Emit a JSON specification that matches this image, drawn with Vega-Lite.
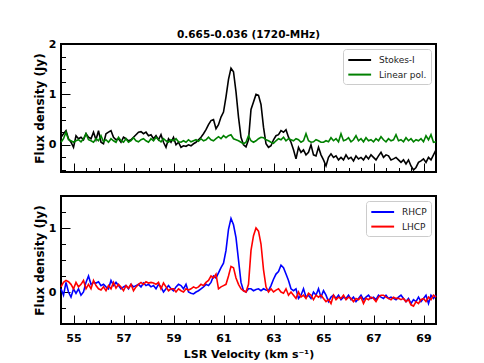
{
 "$schema": "https://vega.github.io/schema/vega-lite/v6.json",
 "padding": {"left": 32, "top": 28, "right": 0, "bottom": 0},
 "background": "white",
 "config": {
  "font": "DejaVu Sans",
  "view": {"stroke": "black", "strokeWidth": 2},
  "axis": {"domain": false, "grid": false, "tickColor": "black", "tickWidth": 1, "labelColor": "black", "titleColor": "black", "labelFont": "DejaVu Sans", "labelFontWeight": "bold", "labelFontSize": 11, "titleFontWeight": "bold", "titleFont": "DejaVu Sans"},
  "legend": {"orient": "top-right", "offset": 5, "padding": 4, "strokeColor": "#cccccc", "fillColor": "white", "cornerRadius": 3, "symbolType": "M-1,0L3,0", "symbolSize": 130, "symbolStrokeWidth": 2, "labelFontSize": 9, "labelFont": "DejaVu Sans", "labelColor": "#222222", "rowPadding": 2.6, "labelOffset": 18}
 },
 "datasets": {"d": [
  {"v":54.5,"s1":0.15,"s2":0.05,"c1":0.05,"c2":0.08},
  {"v":54.6,"s1":0.22,"s2":0.12,"c1":-0.05,"c2":0.15},
  {"v":54.7,"s1":0.28,"s2":0.25,"c1":0.15,"c2":0.18},
  {"v":54.8,"s1":0.12,"s2":0.10,"c1":0.0,"c2":0.16},
  {"v":54.9,"s1":0.05,"s2":0.08,"c1":-0.08,"c2":0.12},
  {"v":55.0,"s1":-0.05,"s2":0.05,"c1":0.05,"c2":0.05},
  {"v":55.1,"s1":0.18,"s2":0.08,"c1":-0.02,"c2":0.15},
  {"v":55.2,"s1":0.12,"s2":0.10,"c1":0.05,"c2":0.08},
  {"v":55.3,"s1":0.15,"s2":0.06,"c1":-0.05,"c2":0.12},
  {"v":55.4,"s1":0.10,"s2":0.12,"c1":0.0,"c2":0.18},
  {"v":55.5,"s1":0.22,"s2":0.22,"c1":0.15,"c2":0.05},
  {"v":55.6,"s1":0.15,"s2":0.10,"c1":0.25,"c2":0.12},
  {"v":55.7,"s1":0.12,"s2":0.08,"c1":0.12,"c2":0.05},
  {"v":55.8,"s1":0.25,"s2":0.05,"c1":0.15,"c2":0.18},
  {"v":55.9,"s1":0.10,"s2":0.12,"c1":0.14,"c2":0.10},
  {"v":56.0,"s1":0.28,"s2":0.08,"c1":0.16,"c2":0.05},
  {"v":56.1,"s1":0.05,"s2":0.18,"c1":0.10,"c2":0.03},
  {"v":56.2,"s1":0.02,"s2":0.06,"c1":0.12,"c2":0.08},
  {"v":56.3,"s1":0.22,"s2":0.10,"c1":0.08,"c2":0.02},
  {"v":56.4,"s1":0.25,"s2":0.05,"c1":0.05,"c2":0.10},
  {"v":56.5,"s1":0.28,"s2":0.12,"c1":0.18,"c2":0.05},
  {"v":56.6,"s1":0.15,"s2":0.08,"c1":0.10,"c2":0.15},
  {"v":56.7,"s1":0.10,"s2":0.05,"c1":0.15,"c2":0.06},
  {"v":56.8,"s1":0.12,"s2":0.15,"c1":0.10,"c2":0.12},
  {"v":56.9,"s1":0.05,"s2":0.08,"c1":0.05,"c2":0.08},
  {"v":57.0,"s1":0.15,"s2":0.05,"c1":0.08,"c2":0.02},
  {"v":57.1,"s1":0.12,"s2":0.12,"c1":0.10,"c2":0.10},
  {"v":57.2,"s1":0.08,"s2":0.05,"c1":0.05,"c2":0.06},
  {"v":57.3,"s1":0.10,"s2":0.08,"c1":0.12,"c2":0.12},
  {"v":57.4,"s1":0.15,"s2":0.14,"c1":0.08,"c2":0.02},
  {"v":57.5,"s1":0.20,"s2":0.08,"c1":0.10,"c2":0.08},
  {"v":57.6,"s1":0.25,"s2":0.06,"c1":0.12,"c2":0.12},
  {"v":57.7,"s1":0.26,"s2":0.10,"c1":0.08,"c2":0.15},
  {"v":57.8,"s1":0.22,"s2":0.12,"c1":0.14,"c2":0.12},
  {"v":57.9,"s1":0.25,"s2":0.08,"c1":0.10,"c2":0.16},
  {"v":58.0,"s1":0.18,"s2":0.05,"c1":0.12,"c2":0.14},
  {"v":58.1,"s1":0.20,"s2":0.12,"c1":0.08,"c2":0.15},
  {"v":58.2,"s1":0.12,"s2":0.08,"c1":0.10,"c2":0.14},
  {"v":58.3,"s1":0.18,"s2":0.15,"c1":0.05,"c2":0.12},
  {"v":58.4,"s1":0.10,"s2":0.10,"c1":0.12,"c2":0.15},
  {"v":58.5,"s1":0.20,"s2":0.06,"c1":0.08,"c2":0.05},
  {"v":58.6,"s1":0.05,"s2":0.12,"c1":0.0,"c2":0.14},
  {"v":58.7,"s1":-0.05,"s2":0.08,"c1":0.05,"c2":0.08},
  {"v":58.8,"s1":0.12,"s2":0.05,"c1":0.10,"c2":0.02},
  {"v":58.9,"s1":0.05,"s2":0.10,"c1":0.05,"c2":0.05},
  {"v":59.0,"s1":0.15,"s2":0.08,"c1":0.02,"c2":0.05},
  {"v":59.1,"s1":0.0,"s2":0.12,"c1":0.08,"c2":0.0},
  {"v":59.2,"s1":0.05,"s2":0.06,"c1":0.12,"c2":0.05},
  {"v":59.3,"s1":-0.05,"s2":0.05,"c1":0.10,"c2":0.02},
  {"v":59.4,"s1":-0.02,"s2":0.08,"c1":0.05,"c2":0.0},
  {"v":59.5,"s1":-0.03,"s2":0.05,"c1":0.12,"c2":0.05},
  {"v":59.6,"s1":0.0,"s2":0.10,"c1":0.0,"c2":0.03},
  {"v":59.7,"s1":-0.02,"s2":0.06,"c1":-0.02,"c2":0.05},
  {"v":59.8,"s1":0.02,"s2":0.08,"c1":-0.03,"c2":0.08},
  {"v":59.9,"s1":0.05,"s2":0.10,"c1":0.0,"c2":0.06},
  {"v":60.0,"s1":0.10,"s2":0.07,"c1":0.02,"c2":0.08},
  {"v":60.1,"s1":0.15,"s2":0.12,"c1":0.05,"c2":0.12},
  {"v":60.2,"s1":0.22,"s2":0.08,"c1":0.08,"c2":0.10},
  {"v":60.3,"s1":0.30,"s2":0.10,"c1":0.12,"c2":0.15},
  {"v":60.4,"s1":0.40,"s2":0.15,"c1":0.10,"c2":0.18},
  {"v":60.5,"s1":0.48,"s2":0.10,"c1":0.15,"c2":0.25},
  {"v":60.6,"s1":0.50,"s2":0.08,"c1":0.25,"c2":0.22},
  {"v":60.7,"s1":0.32,"s2":0.12,"c1":0.22,"c2":0.28},
  {"v":60.8,"s1":0.40,"s2":0.16,"c1":0.30,"c2":0.05},
  {"v":60.9,"s1":0.55,"s2":0.12,"c1":0.38,"c2":0.08},
  {"v":61.0,"s1":0.65,"s2":0.18,"c1":0.45,"c2":0.10},
  {"v":61.1,"s1":0.95,"s2":0.14,"c1":0.65,"c2":0.12},
  {"v":61.2,"s1":1.30,"s2":0.18,"c1":0.98,"c2":0.25},
  {"v":61.3,"s1":1.52,"s2":0.20,"c1":1.15,"c2":0.40},
  {"v":61.4,"s1":1.45,"s2":0.12,"c1":1.05,"c2":0.38},
  {"v":61.5,"s1":1.05,"s2":0.10,"c1":0.85,"c2":0.22},
  {"v":61.6,"s1":0.55,"s2":0.08,"c1":0.50,"c2":0.12},
  {"v":61.7,"s1":0.15,"s2":0.05,"c1":0.15,"c2":0.05},
  {"v":61.8,"s1":0.0,"s2":0.02,"c1":0.02,"c2":0.02},
  {"v":61.9,"s1":-0.04,"s2":0.05,"c1":0.0,"c2":0.0},
  {"v":62.0,"s1":0.10,"s2":0.18,"c1":0.05,"c2":0.12},
  {"v":62.1,"s1":0.70,"s2":0.08,"c1":0.05,"c2":0.65},
  {"v":62.2,"s1":0.85,"s2":0.05,"c1":0.02,"c2":0.88},
  {"v":62.3,"s1":1.00,"s2":0.08,"c1":0.04,"c2":1.0},
  {"v":62.4,"s1":0.98,"s2":0.12,"c1":0.05,"c2":0.95},
  {"v":62.5,"s1":0.80,"s2":0.15,"c1":0.02,"c2":0.75},
  {"v":62.6,"s1":0.35,"s2":0.14,"c1":0.05,"c2":0.35},
  {"v":62.7,"s1":0.02,"s2":0.10,"c1":0.03,"c2":0.08},
  {"v":62.8,"s1":-0.05,"s2":0.08,"c1":0.02,"c2":0.0},
  {"v":62.9,"s1":-0.02,"s2":0.05,"c1":0.10,"c2":0.05},
  {"v":63.0,"s1":0.10,"s2":0.03,"c1":0.20,"c2":0.0},
  {"v":63.1,"s1":0.18,"s2":0.08,"c1":0.28,"c2":0.03},
  {"v":63.2,"s1":0.20,"s2":0.12,"c1":0.32,"c2":0.05},
  {"v":63.3,"s1":0.28,"s2":0.10,"c1":0.42,"c2":0.0},
  {"v":63.4,"s1":0.25,"s2":0.15,"c1":0.38,"c2":-0.02},
  {"v":63.5,"s1":0.30,"s2":0.08,"c1":0.28,"c2":0.05},
  {"v":63.6,"s1":0.15,"s2":0.12,"c1":0.18,"c2":-0.05},
  {"v":63.7,"s1":0.05,"s2":0.10,"c1":0.05,"c2":0.0},
  {"v":63.8,"s1":-0.10,"s2":0.08,"c1":0.02,"c2":-0.05},
  {"v":63.9,"s1":-0.28,"s2":0.12,"c1":0.05,"c2":-0.10},
  {"v":64.0,"s1":-0.05,"s2":0.10,"c1":-0.10,"c2":0.0},
  {"v":64.1,"s1":-0.15,"s2":0.05,"c1":-0.05,"c2":-0.08},
  {"v":64.2,"s1":-0.10,"s2":0.08,"c1":0.05,"c2":-0.05},
  {"v":64.3,"s1":-0.20,"s2":0.22,"c1":-0.08,"c2":-0.10},
  {"v":64.4,"s1":-0.15,"s2":0.08,"c1":-0.05,"c2":-0.02},
  {"v":64.5,"s1":0.0,"s2":0.05,"c1":-0.10,"c2":-0.05},
  {"v":64.6,"s1":-0.20,"s2":0.06,"c1":0.0,"c2":-0.12},
  {"v":64.7,"s1":-0.22,"s2":0.10,"c1":-0.05,"c2":-0.05},
  {"v":64.8,"s1":-0.05,"s2":0.08,"c1":0.05,"c2":-0.08},
  {"v":64.9,"s1":-0.20,"s2":0.05,"c1":-0.08,"c2":-0.05},
  {"v":65.0,"s1":-0.30,"s2":0.05,"c1":0.02,"c2":-0.10},
  {"v":65.1,"s1":-0.42,"s2":0.08,"c1":-0.05,"c2":-0.15},
  {"v":65.2,"s1":-0.25,"s2":0.06,"c1":-0.15,"c2":-0.12},
  {"v":65.3,"s1":-0.18,"s2":0.14,"c1":-0.08,"c2":-0.18},
  {"v":65.4,"s1":-0.25,"s2":0.08,"c1":-0.05,"c2":-0.05},
  {"v":65.5,"s1":-0.22,"s2":0.12,"c1":-0.10,"c2":-0.12},
  {"v":65.6,"s1":-0.30,"s2":0.06,"c1":-0.05,"c2":-0.08},
  {"v":65.7,"s1":-0.25,"s2":0.22,"c1":-0.12,"c2":-0.10},
  {"v":65.8,"s1":-0.30,"s2":0.08,"c1":-0.08,"c2":-0.05},
  {"v":65.9,"s1":-0.20,"s2":0.10,"c1":-0.10,"c2":-0.12},
  {"v":66.0,"s1":-0.28,"s2":0.14,"c1":-0.05,"c2":-0.08},
  {"v":66.1,"s1":-0.25,"s2":0.06,"c1":-0.12,"c2":-0.10},
  {"v":66.2,"s1":-0.32,"s2":0.10,"c1":-0.08,"c2":-0.15},
  {"v":66.3,"s1":-0.22,"s2":0.18,"c1":-0.15,"c2":-0.10},
  {"v":66.4,"s1":-0.28,"s2":0.08,"c1":-0.10,"c2":-0.12},
  {"v":66.5,"s1":-0.25,"s2":0.12,"c1":-0.05,"c2":-0.08},
  {"v":66.6,"s1":-0.30,"s2":0.06,"c1":-0.12,"c2":-0.18},
  {"v":66.7,"s1":-0.22,"s2":0.14,"c1":-0.08,"c2":-0.10},
  {"v":66.8,"s1":-0.28,"s2":0.08,"c1":-0.05,"c2":-0.12},
  {"v":66.9,"s1":-0.20,"s2":0.10,"c1":-0.10,"c2":-0.08},
  {"v":67.0,"s1":-0.25,"s2":0.06,"c1":-0.08,"c2":-0.10},
  {"v":67.1,"s1":-0.30,"s2":0.12,"c1":-0.12,"c2":-0.15},
  {"v":67.2,"s1":-0.22,"s2":0.08,"c1":-0.05,"c2":-0.08},
  {"v":67.3,"s1":-0.15,"s2":0.16,"c1":-0.08,"c2":-0.05},
  {"v":67.4,"s1":-0.25,"s2":0.10,"c1":-0.10,"c2":-0.05},
  {"v":67.5,"s1":-0.20,"s2":0.06,"c1":-0.05,"c2":-0.08},
  {"v":67.6,"s1":-0.22,"s2":0.12,"c1":-0.10,"c2":-0.10},
  {"v":67.7,"s1":-0.30,"s2":0.08,"c1":-0.08,"c2":-0.12},
  {"v":67.8,"s1":-0.28,"s2":0.10,"c1":-0.10,"c2":-0.08},
  {"v":67.9,"s1":-0.25,"s2":0.20,"c1":-0.12,"c2":-0.10},
  {"v":68.0,"s1":-0.30,"s2":0.08,"c1":-0.08,"c2":-0.10},
  {"v":68.1,"s1":-0.35,"s2":0.10,"c1":-0.05,"c2":-0.12},
  {"v":68.2,"s1":-0.30,"s2":0.06,"c1":-0.10,"c2":-0.10},
  {"v":68.3,"s1":-0.38,"s2":0.14,"c1":-0.15,"c2":-0.15},
  {"v":68.4,"s1":-0.30,"s2":0.08,"c1":-0.10,"c2":-0.12},
  {"v":68.5,"s1":-0.42,"s2":0.12,"c1":-0.18,"c2":-0.20},
  {"v":68.6,"s1":-0.50,"s2":0.06,"c1":-0.12,"c2":-0.22},
  {"v":68.7,"s1":-0.45,"s2":0.10,"c1":-0.15,"c2":-0.15},
  {"v":68.8,"s1":-0.35,"s2":0.08,"c1":-0.08,"c2":-0.18},
  {"v":68.9,"s1":-0.32,"s2":0.12,"c1":-0.15,"c2":-0.12},
  {"v":69.0,"s1":-0.28,"s2":0.06,"c1":-0.10,"c2":-0.10},
  {"v":69.1,"s1":-0.35,"s2":0.18,"c1":-0.05,"c2":-0.15},
  {"v":69.2,"s1":-0.25,"s2":0.10,"c1":-0.18,"c2":-0.08},
  {"v":69.3,"s1":-0.30,"s2":0.20,"c1":-0.05,"c2":-0.12},
  {"v":69.4,"s1":-0.20,"s2":0.05,"c1":-0.10,"c2":-0.05},
  {"v":69.5,"s1":-0.10,"s2":0.06,"c1":-0.05,"c2":-0.08}
 ]},
 "bounds": "flush",
 "spacing": 24,
 "resolve": {"scale": {"color": "independent"}},
 "vconcat": [
  {
   "width": 375, "height": 128,
   "title": {"text": "0.665-0.036 (1720-MHz)", "fontSize": 10.5, "fontWeight": "bold", "font": "DejaVu Sans", "anchor": "middle", "frame": "group", "offset": -2, "color": "black"},
   "data": {"name": "d"},
   "transform": [{"fold": ["s1", "s2"], "as": ["series", "flux"]}],
   "resolve": {"axis": {"x": "independent", "y": "independent"}},
   "layer": [
    {"mark": {"type": "line", "strokeWidth": 1.6},
     "encoding": {
      "x": {"field": "v", "type": "quantitative", "scale": {"domain": [54.5, 69.5], "nice": false, "zero": false}, "axis": {"orient": "bottom", "values": [55, 57, 59, 61, 63, 65, 67, 69], "tickSize": -9, "labels": false, "title": null}},
      "y": {"field": "flux", "type": "quantitative", "scale": {"domain": [-0.54, 2], "nice": false, "zero": false}, "axis": {"orient": "left", "values": [0, 1, 2], "tickSize": -9, "labelPadding": 14, "title": "Flux density (Jy)", "titleFontSize": 12, "titlePadding": 1.5}},
      "color": {"field": "series", "type": "nominal", "scale": {"domain": ["s1", "s2"], "range": ["#000000", "#008000"]}, "legend": {"title": null, "labelExpr": "datum.label == 's1' ? 'Stokes-I' : 'Linear pol.'"}}
     }},
    {"mark": {"type": "point", "opacity": 0},
     "encoding": {
      "x": {"field": "v", "type": "quantitative", "axis": {"orient": "bottom", "values": [55, 55.5, 56, 56.5, 57, 57.5, 58, 58.5, 59, 59.5, 60, 60.5, 61, 61.5, 62, 62.5, 63, 63.5, 64, 64.5, 65, 65.5, 66, 66.5, 67, 67.5, 68, 68.5, 69], "tickSize": -4.5, "labels": false, "title": null}},
      "y": {"field": "flux", "type": "quantitative", "axis": {"orient": "left", "values": [-0.5, -0.25, 0.25, 0.5, 0.75, 1.25, 1.5, 1.75], "tickSize": -4.5, "labels": false, "title": null}}
     }}
   ]
  },
  {
   "width": 375, "height": 128,
   "data": {"name": "d"},
   "transform": [{"fold": ["c1", "c2"], "as": ["series", "flux"]}],
   "resolve": {"axis": {"x": "independent", "y": "independent"}},
   "layer": [
    {"mark": {"type": "line", "strokeWidth": 1.6},
     "encoding": {
      "x": {"field": "v", "type": "quantitative", "scale": {"domain": [54.5, 69.5], "nice": false, "zero": false}, "axis": {"orient": "bottom", "values": [55, 57, 59, 61, 63, 65, 67, 69], "tickSize": -9, "labelPadding": 17, "title": "LSR Velocity (km s⁻¹)", "titleFontSize": 11, "titlePadding": 5}},
      "y": {"field": "flux", "type": "quantitative", "scale": {"domain": [-0.5, 1.5], "nice": false, "zero": false}, "axis": {"orient": "left", "values": [0, 1], "tickSize": -9, "labelPadding": 14, "title": "Flux density (Jy)", "titleFontSize": 12, "titlePadding": 1.5}},
      "color": {"field": "series", "type": "nominal", "scale": {"domain": ["c1", "c2"], "range": ["#0000ff", "#ff0000"]}, "legend": {"title": null, "labelExpr": "datum.label == 'c1' ? 'RHCP' : 'LHCP'"}}
     }},
    {"mark": {"type": "point", "opacity": 0},
     "encoding": {
      "x": {"field": "v", "type": "quantitative", "axis": {"orient": "bottom", "values": [55, 55.5, 56, 56.5, 57, 57.5, 58, 58.5, 59, 59.5, 60, 60.5, 61, 61.5, 62, 62.5, 63, 63.5, 64, 64.5, 65, 65.5, 66, 66.5, 67, 67.5, 68, 68.5, 69], "tickSize": -4.5, "labels": false, "title": null}},
      "y": {"field": "flux", "type": "quantitative", "axis": {"orient": "left", "values": [-0.25, 0.25, 0.5, 0.75, 1.25], "tickSize": -4.5, "labels": false, "title": null}}
     }}
   ]
  }
 ]
}
